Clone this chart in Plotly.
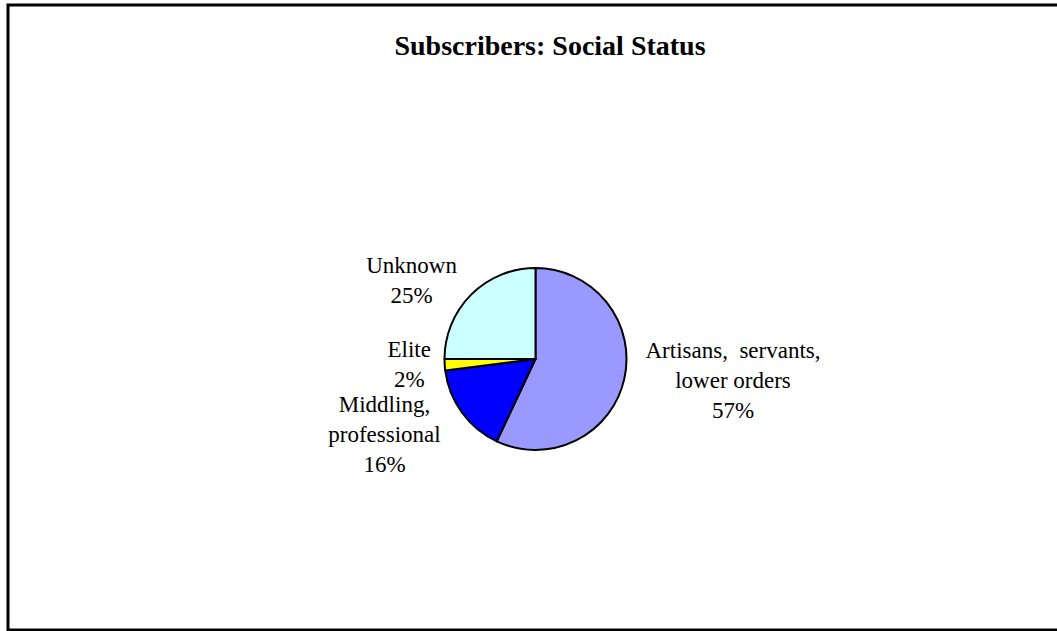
import plotly.graph_objects as go

# Social status breakdown of subscribers (share of total, %)
categories = ["Artisans,  servants,<br>lower orders", "Middling,<br>professional", "Elite", "Unknown"]
shares = [57, 16, 2, 25]
colors = ["#9999FF", "#0000FF", "#FFFF00", "#CCFFFF"]

W, H = 1057, 631
cx, cy, r = 535.5, 359, 91

fig = go.Figure(go.Pie(
    labels=categories,
    values=shares,
    sort=False,
    direction="clockwise",
    rotation=0,
    marker=dict(colors=colors, line=dict(color="black", width=2)),
    textposition="outside",
    texttemplate="%{label}<br>%{value}%",
    textfont=dict(family="Liberation Serif", size=23, color="black"),
    showlegend=False,
    hoverinfo="skip",
    domain=dict(x=[(cx - r) / W, (cx + r) / W], y=[1 - (cy + r) / H, 1 - (cy - r) / H]),
))

fig.update_layout(
    width=W, height=H,
    margin=dict(l=0, r=0, t=0, b=0),
    paper_bgcolor="white",
    title=dict(
        text="<b>Subscribers: Social Status</b>",
        font=dict(family="Liberation Serif", size=28, color="black"),
        x=550 / W, xanchor="center", y=1 - 45 / H, yanchor="middle",
    ),
    shapes=[dict(
        type="rect", xref="paper", yref="paper",
        x0=8 / W, x1=1.01, y0=1 - 630 / H, y1=1 - 5 / H,
        line=dict(color="black", width=3),
    )],
)

# Labels sit beside their slices without leader lines
fig.write_html(
    "out.html",
    post_script="document.querySelectorAll('path.textline').forEach(function(p){p.style.display='none';});",
)
